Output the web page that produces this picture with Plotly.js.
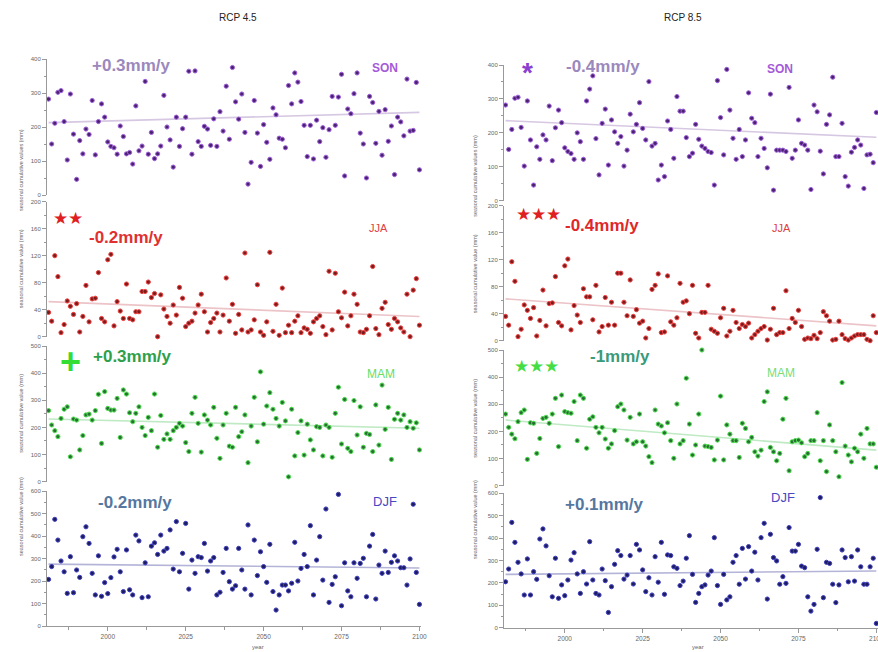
<!DOCTYPE html>
<html><head><meta charset="utf-8">
<script src="https://cdn.plot.ly/plotly-3.0.1.min.js"></script>
<style>html,body{margin:0;padding:0;background:#fff}#chart{width:878px;height:652px}</style>
</head><body><div id="chart"></div>
<script>
const startYear = 1981;
const nYears = 120;

const son45 = [282,150,211,302,307,216,103,297,179,46,160,121,194,178,278,118,216,268,229,156,143,139,120,203,172,121,125,91,262,130,144,334,120,184,107,121,144,293,200,162,82,229,143,195,229,364,120,365,157,143,202,194,146,224,143,245,188,320,164,375,274,223,297,184,32,96,278,182,84,207,155,105,256,236,167,164,139,322,268,359,332,275,205,113,205,106,220,157,198,111,192,290,205,288,355,56,253,239,298,359,182,150,50,290,272,152,246,117,251,158,203,60,229,215,174,341,188,190,331,74];
const son85 = [282,151,210,302,305,216,102,294,179,46,159,122,194,179,279,118,215,267,230,156,145,139,122,200,174,122,294,329,368,183,76,228,270,105,238,203,169,189,102,149,255,203,225,289,213,179,351,161,169,61,105,71,235,210,125,307,264,264,186,130,140,225,181,161,154,145,142,46,354,245,135,387,267,184,122,210,130,179,318,243,230,130,184,154,97,314,31,149,149,149,145,334,125,149,238,169,164,149,33,282,262,146,79,225,253,364,130,130,228,71,43,143,157,179,164,36,135,137,112,260];
const jja45 = [36,23,120,89,6,18,53,45,33,49,7,30,76,22,56,57,95,27,22,114,122,16,52,38,27,78,27,25,37,37,67,67,81,58,64,0,62,41,30,20,47,32,73,57,15,20,23,35,47,63,37,7,21,27,35,7,32,87,23,48,5,33,10,124,7,10,25,77,7,2,22,125,8,48,2,72,6,17,6,23,31,6,13,11,5,22,27,31,15,3,97,10,94,37,28,66,16,31,63,48,7,6,11,31,104,12,3,42,51,18,11,27,22,13,7,63,0,69,86,17];
const jja85 = [36,23,117,88,6,17,53,45,33,49,7,30,75,22,55,56,95,27,22,111,121,16,52,38,27,77,65,65,31,82,13,21,64,23,57,23,100,100,57,37,90,36,46,26,29,4,18,76,82,99,12,13,96,28,23,34,85,57,59,40,82,11,4,42,42,82,17,14,11,34,48,7,14,45,27,18,24,21,26,4,9,14,18,21,1,17,48,9,12,12,74,18,33,27,45,21,2,4,3,8,3,12,43,37,29,1,2,29,9,3,1,4,7,9,9,9,2,0,37,12];
const mam45 = [262,209,188,166,233,267,276,92,231,227,117,170,246,249,227,262,322,141,332,270,264,264,307,163,338,323,254,221,252,276,200,170,237,188,323,127,244,156,176,156,188,200,215,205,144,111,252,311,215,109,246,227,209,274,160,86,209,252,131,127,274,166,184,246,70,205,311,147,405,212,279,328,267,233,205,292,224,18,267,95,181,224,98,212,154,117,203,200,95,209,200,90,252,348,139,303,123,111,299,172,276,127,178,174,111,283,135,356,193,274,82,230,252,227,246,200,221,197,217,117];
const mam85 = [264,215,190,173,236,269,279,97,232,230,119,174,248,252,230,264,322,144,334,273,269,267,310,166,334,322,138,245,254,215,195,215,172,138,154,203,291,301,279,168,252,154,162,264,162,146,107,85,279,227,220,195,232,166,101,301,154,166,396,227,113,150,264,500,146,144,141,95,168,330,95,224,190,166,166,104,230,211,162,178,125,109,131,310,346,141,125,92,119,245,322,55,162,166,168,158,107,119,166,166,269,92,166,52,224,166,125,33,380,146,113,88,138,125,190,101,211,154,154,68];
const djf45 = [207,264,474,382,289,241,145,308,148,249,216,397,441,367,234,138,312,132,193,144,215,307,341,241,153,338,161,138,404,378,126,281,130,355,370,318,404,333,345,427,253,464,241,323,456,164,293,234,308,304,367,244,289,304,138,150,238,345,197,164,179,345,249,164,449,138,382,224,330,264,194,363,153,71,138,182,182,156,190,372,200,256,318,264,446,138,293,397,204,520,105,185,219,585,90,281,156,130,281,212,278,301,130,355,407,120,271,234,333,238,283,312,289,259,259,182,298,541,238,96];
const djf85 = [205,262,470,381,292,240,146,307,146,250,216,396,441,365,232,138,310,131,191,143,213,302,335,240,153,250,195,384,213,153,146,262,210,68,183,283,344,322,217,235,322,195,372,347,258,161,223,146,317,203,381,149,325,322,272,265,188,208,310,411,238,113,153,183,191,235,253,402,188,104,238,124,138,292,322,194,354,217,362,253,337,213,402,466,128,417,313,298,194,228,198,447,342,342,372,275,268,138,74,104,350,581,134,292,287,194,112,191,347,313,205,317,208,347,272,194,194,272,310,19];

// trend line end values [1981, 2100]
const trendYears = [1981, 2100];
const son45Trend = [213, 243];
const son85Trend = [236, 187];
const jja45Trend = [52, 30];
const jja85Trend = [62, 22];
const mam45Trend = [231, 197];
const mam85Trend = [242, 131];
const djf45Trend = [275, 258];
const djf85Trend = [238, 253];

const xTickVals = [2000, 2025, 2050, 2075, 2100];
const xTickText = ['2000', '2025', '2050', '2075', '2100'];

const years = [];
for (let i = 0; i < nYears; i++) years.push(startYear + i);

const W = 878, H = 652;
const px = x => x / W;
const py = y => 1 - y / H;

const panels = [
  {vals: son45, trend: son45Trend, x0: 47, x1: 421, yb: 195, yt: 59, r: [0,400], dt: 100, col: '#4a2270', edge: '#a060dc', tcol: '#d6c8e2', xt: false},
  {vals: son85, trend: son85Trend, x0: 504, x1: 877.9, yb: 200.7, yt: 65, r: [0,400], dt: 100, col: '#4a2270', edge: '#a060dc', tcol: '#d6c8e2', xt: false},
  {vals: jja45, trend: jja45Trend, x0: 47, x1: 421, yb: 336.7, yt: 201.7, r: [0,200], dt: 40, col: '#7a1c1c', edge: '#ee4040', tcol: '#ecc4c8', xt: false},
  {vals: jja85, trend: jja85Trend, x0: 504, x1: 877.9, yb: 340.7, yt: 205.7, r: [0,200], dt: 40, col: '#7a1c1c', edge: '#ee4040', tcol: '#ecc4c8', xt: false},
  {vals: mam45, trend: mam45Trend, x0: 47, x1: 421, yb: 481.7, yt: 346, r: [0,500], dt: 100, col: '#2a6e36', edge: '#50e050', tcol: '#bfeac4', xt: false},
  {vals: mam85, trend: mam85Trend, x0: 504, x1: 877.9, yb: 485.7, yt: 350, r: [0,500], dt: 100, col: '#2a6e36', edge: '#50e050', tcol: '#bfeac4', xt: false},
  {vals: djf45, trend: djf45Trend, x0: 47, x1: 421, yb: 626, yt: 491, r: [0,600], dt: 100, col: '#1c1c5e', edge: '#4040c0', tcol: '#b4b4d8', xt: true},
  {vals: djf85, trend: djf85Trend, x0: 504, x1: 877.9, yb: 627.7, yt: 493.3, r: [0,600], dt: 100, col: '#1c1c5e', edge: '#4040c0', tcol: '#b4b4d8', xt: true},
];

const data = [];
const layout = {
  width: W, height: H,
  margin: {l: 0, r: 0, t: 0, b: 0},
  paper_bgcolor: '#ffffff', plot_bgcolor: '#ffffff',
  showlegend: false,
  font: {family: 'Liberation Sans, Arial, sans-serif'},
  annotations: []
};

panels.forEach((p, i) => {
  const n = i + 1;
  const xa = 'x' + (n === 1 ? '' : n), ya = 'y' + (n === 1 ? '' : n);
  data.push({x: trendYears, y: p.trend, xaxis: xa, yaxis: ya, type: 'scatter', mode: 'lines',
    line: {color: p.tcol, width: 1.6}, hoverinfo: 'skip', cliponaxis: false});
  data.push({x: years, y: p.vals, xaxis: xa, yaxis: ya, type: 'scatter', mode: 'markers',
    marker: {size: 4.2, color: p.col, line: {color: p.edge, width: 1}}, cliponaxis: false});
  const xk = 'xaxis' + (n === 1 ? '' : n), yk = 'yaxis' + (n === 1 ? '' : n);
  layout[xk] = {
    domain: [px(p.x0), px(p.x1)], range: [1980.5, 2100.5], anchor: ya,
    showgrid: false, zeroline: false,
    showline: p.xt, linecolor: '#999', linewidth: 1,
    ticks: p.xt ? 'outside' : '', ticklen: 4, tickcolor: '#999',
    showticklabels: p.xt, tickvals: xTickVals, ticktext: xTickText,
    ticklabeloverflow: 'allow',
    tickfont: {size: 6.5, color: '#666'},
    minor: p.xt ? {dtick: 12.5, tick0: 2000, ticks: 'outside', ticklen: 2.5, tickcolor: '#999'} : undefined
  };
  layout[yk] = {
    domain: [py(p.yb), py(p.yt)], range: p.r, anchor: xa,
    showgrid: false, zeroline: false,
    showline: true, linecolor: '#999', linewidth: 1,
    ticks: 'outside', ticklen: 4, tickcolor: '#999', dtick: p.dt, tick0: 0,
    tickfont: {size: 6, color: '#666'},
    minor: {dtick: p.dt / 2, ticks: 'outside', ticklen: 2.5, tickcolor: '#999'}
  };
  const ytitle = i < 2 ? 'seasonal cumulative values (mm)' : 'seasonal cumulative value (mm)';
  layout.annotations.push({xref: 'paper', yref: 'paper', x: px(i % 2 === 0 ? 16 : 475), y: py((p.yb + p.yt) / 2),
    text: ytitle, textangle: -90, showarrow: false, font: {size: 5.5, color: '#666'}});
});

function ann(text, x, y, size, color) {
  layout.annotations.push({xref: 'paper', yref: 'paper', x: px(x), y: py(y),
    xanchor: 'center', yanchor: 'middle', text: text, showarrow: false,
    font: {size: size, color: color, family: 'Liberation Sans, Arial, sans-serif'}});
}

ann('RCP 4.5', 238, 18, 10, '#222');
ann('RCP 8.5', 683, 18, 10, '#222');
ann('<b>+0.3mm/y</b>', 131, 66, 17, '#9b88bd');
ann('<b>SON</b>', 385, 68, 12, '#a45ad8');
ann('<b>*</b>', 527, 72, 28, '#8a3fd0');
ann('<b>-0.4mm/y</b>', 603, 67, 17, '#9b88bd');
ann('<b>SON</b>', 780, 69, 12, '#a45ad8');
ann('★★', 68, 219, 17, '#e02020');
ann('<b>-0.2mm/y</b>', 126, 237, 17, '#e03030');
ann('JJA', 378, 228, 11, '#e04040');
ann('★★★', 538, 214, 17, '#e02020');
ann('<b>-0.4mm/y</b>', 602, 225, 17, '#e02828');
ann('JJA', 781, 228, 11, '#e04040');
ann('<b>+</b>', 70, 361, 36, '#33dd33');
ann('<b>+0.3mm/y</b>', 132, 356, 17, '#2ea04a');
ann('MAM', 381, 374, 12, '#66dd66');
ann('★★★', 536, 366, 17, '#44dd44');
ann('<b>-1mm/y</b>', 620, 357, 17, '#3a9a7a');
ann('MAM', 781, 373, 12, '#77dd77');
ann('<b>-0.2mm/y</b>', 135, 502, 17, '#5577a0');
ann('DJF', 385, 501, 13, '#4848c0');
ann('<b>+0.1mm/y</b>', 604, 504, 17, '#5577a0');
ann('DJF', 783, 497, 13, '#4848c0');
ann('year', 258, 647, 6, '#666');
ann('year', 698, 647, 6, '#666');

Plotly.newPlot('chart', data, layout, {displayModeBar: false, staticPlot: true});
</script>
</body></html>
